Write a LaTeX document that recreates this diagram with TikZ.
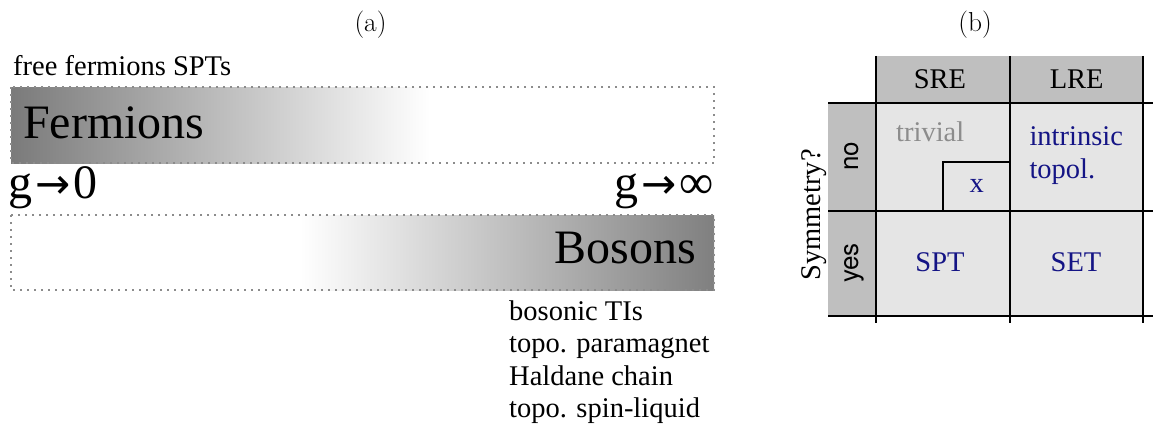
\documentclass[tikz,border=0pt]{standalone}
\usepackage{fontspec}
\setmainfont{Liberation Serif}
\setsansfont{TeX Gyre Heros}
\newfontfamily\arrowfont{DejaVu Sans}
\definecolor{navy}{rgb}{0.08,0.08,0.52}
\definecolor{hdrgray}{gray}{0.75}
\definecolor{cellgray}{gray}{0.9}
\newcommand{\garrow}{\kern3pt{\arrowfont\fontsize{42}{48}\selectfont →}\kern3pt}
\begin{document}
\begin{tikzpicture}[x=1pt,y=-1pt,
  txt/.style={inner sep=0pt, font=\fontsize{28.5}{32.5}\selectfont},
  bigtxt/.style={inner sep=0pt, font=\fontsize{48}{54}\selectfont},
  lbl/.style={inner sep=0pt, font=\fontfamily{lmr}\fontsize{27.4}{33}\selectfont},
  bar/.style={draw=black!45, line width=2pt, dash pattern=on 2pt off 5pt},
  gridline/.style={line width=1.8pt},
  bluetxt/.style={txt, text=navy},
  yn/.style={inner sep=0pt, font=\sffamily\fontsize{26}{30}\selectfont, rotate=90, anchor=base}
]
\useasboundingbox (0,0) rectangle (1153,428);
\node[lbl, anchor=base] (a) at (370.5,31.5) {(a)};
\node[lbl, anchor=base] (b) at (975,31.5) {(b)};

% bars
\shade[left color=black!52, right color=white] (11,87) rectangle (430,163);
\draw[bar] (11,87) rectangle (714,163);
\shade[left color=white, right color=black!50] (300,215) rectangle (714,290);
\draw[bar] (11,215) rectangle (714,290);

\node[txt, anchor=base west] (free) at (13,75) {free fermions SPTs};
\node[bigtxt, anchor=base west] (ferm) at (23,138) {Fermions};
\node[bigtxt, anchor=base west] (g0) at (8,198) {g\garrow 0};
\node[bigtxt, anchor=base east] (ginf) at (714,198) {g\garrow ∞};
\node[bigtxt, anchor=base east] (bos) at (696,263) {Bosons};
\node[txt, anchor=base west, align=left] (list) at (509,417.5) {bosonic TIs\\topo. paramagnet\\Haldane chain\\topo. spin-liquid};

% table
\fill[hdrgray] (876,56) rectangle (1143,103);
\fill[hdrgray] (828,103) rectangle (876,316);
\fill[cellgray] (876,103) rectangle (1143,316);
\draw[gridline] (876,56) -- (876,323);
\draw[gridline] (1010,56) -- (1010,323);
\draw[gridline] (1143,56) -- (1143,323);
\draw[gridline] (828,103) -- (1153,103);
\draw[gridline] (828,211) -- (1153,211);
\draw[gridline] (828,316) -- (1153,316);
\draw[gridline] (942.7,211) -- (942.7,161.7) -- (1010,161.7);

\node[txt, anchor=base] (sre) at (940,88.3) {SRE};
\node[txt, anchor=base] (lre) at (1076.7,88.3) {LRE};
\node[txt, anchor=base west, text=black!45] (triv) at (896,141.7) {trivial};
\node[bluetxt, anchor=base west, align=left] (intr) at (1029.3,178.3) {intrinsic\\topol.};
\node[bluetxt, anchor=base] (x) at (976.7,192.7) {x};
\node[bluetxt, anchor=base] (spt) at (940,271) {SPT};
\node[bluetxt, anchor=base] (set) at (1076,271) {SET};
\node[yn] (no) at (858,156) {no};
\node[yn] (yes) at (858,263) {yes};
\node[txt, rotate=90, anchor=base] (sym) at (820,215) {Symmetry?};
\end{tikzpicture}
\end{document}
